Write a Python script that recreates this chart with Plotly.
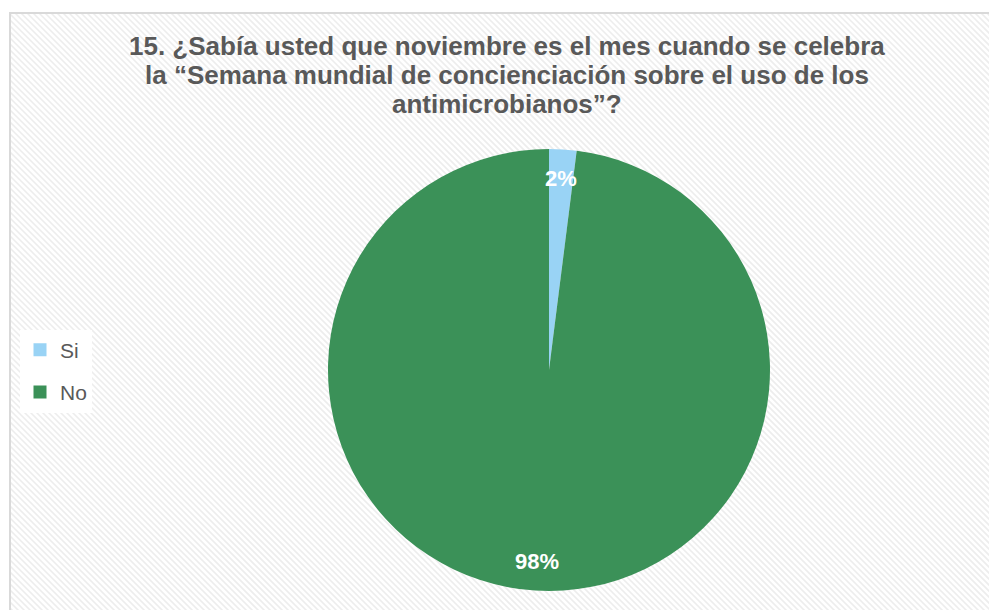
import math
import plotly.graph_objects as go

# ---- data ----
categories = ["Si", "No"]
values = [2, 98]
labels_text = ["2%", "98%"]
colors = ["#99D3F5", "#3B9158"]
title_lines = [
    "15. ¿Sabía usted que noviembre es el mes cuando se celebra",
    "la “Semana mundial de concienciación sobre el uso de los",
    "antimicrobianos”?",
]

W, H = 989, 610
FONT = "Liberation Sans, Arial, sans-serif"
TXT = "#595959"

# pie geometry (pixels)
cx, cy, R = 549, 370, 221

def px(x):
    return x / W

def py(y):
    return 1 - y / H

fig = go.Figure()

fig.add_trace(go.Pie(
    labels=categories,
    values=values,
    marker=dict(colors=colors, line=dict(width=0)),
    sort=False,
    direction="clockwise",
    rotation=0,
    textinfo="none",
    hoverinfo="label+percent",
    showlegend=False,
    domain=dict(x=[px(cx - R), px(cx + R)], y=[py(cy + R), py(cy - R)]),
))

# legend entries (dummy traces so spacing can be controlled)
for i, (cat, col) in enumerate(zip(categories, colors)):
    fig.add_trace(go.Scatter(
        x=[None], y=[None], mode="markers", name=cat,
        marker=dict(symbol="square", size=13, color=col),
        legendgroup=cat, showlegend=True,
    ))

# data labels along the mid-angle of each slice
total = sum(values)
cum = 0
for v, t in zip(values, labels_text):
    mid = (cum + v / 2) / total * 2 * math.pi
    cum += v
    rr = 0.87 * R
    lx = cx + rr * math.sin(mid)
    ly = cy - rr * math.cos(mid)
    fig.add_annotation(
        x=px(lx), y=py(ly), xref="paper", yref="paper",
        text=t, showarrow=False,
        font=dict(family=FONT, size=22, color="white", weight="bold"),
        xanchor="center", yanchor="middle",
    )

# title, one annotation per line (tight line spacing)
title_y0, title_dy = 46, 29
for i, line in enumerate(title_lines):
    fig.add_annotation(
        x=px(507), y=py(title_y0 + i * title_dy), xref="paper", yref="paper",
        text=line, showarrow=False,
        font=dict(family=FONT, size=26, color=TXT, weight="bold"),
        xanchor="center", yanchor="middle",
    )

# frame with diagonal stripes
fx0, fy0, fx1, fy1 = 10, 13, 1010, 620
segs = []
step = 6
c = -(fy1 - fy0)
while c < (fx1 - fx0):
    x_s = fx0 + c
    y_s = fy0
    if x_s < fx0:
        y_s = fy0 + (fx0 - x_s)
        x_s = fx0
    x_e = fx0 + c + (fy1 - fy0)
    y_e = fy1
    if x_e > fx1:
        y_e = fy1 - (x_e - fx1)
        x_e = fx1
    if y_s < fy1 and x_s < fx1:
        segs.append(f"M{px(x_s):.5f},{py(y_s):.5f}L{px(x_e):.5f},{py(y_e):.5f}")
    c += step

fig.add_shape(type="rect", xref="paper", yref="paper",
              x0=px(fx0), x1=px(fx1), y0=py(fy1), y1=py(fy0),
              fillcolor="white", line=dict(width=0), layer="below")
fig.add_shape(type="path", xref="paper", yref="paper",
              path="".join(segs), line=dict(color="#EDEDED", width=1.6),
              layer="below")
fig.add_shape(type="rect", xref="paper", yref="paper",
              x0=px(fx0), x1=px(fx1), y0=py(fy1), y1=py(fy0),
              fillcolor="rgba(0,0,0,0)", line=dict(color="#D9D9D9", width=2),
              layer="below")

fig.update_layout(
    width=W, height=H,
    margin=dict(l=0, r=0, t=0, b=0),
    paper_bgcolor="white",
    plot_bgcolor="rgba(0,0,0,0)",
    xaxis=dict(visible=False),
    yaxis=dict(visible=False),
    legend=dict(
        x=px(20), xanchor="left", y=py(371), yanchor="middle",
        bgcolor="white", borderwidth=0,
        font=dict(family=FONT, size=21, color=TXT),
        tracegroupgap=12, itemwidth=30,
    ),
    showlegend=True,
)

fig.write_html("out.html")
